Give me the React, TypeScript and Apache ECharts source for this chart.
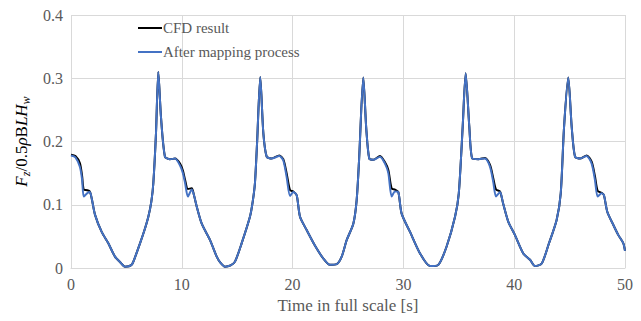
import React, { useEffect, useRef } from "react";
import * as echarts from "echarts";

const timeS: number[] = [
  0, 0.4, 0.8, 1.0, 1.15, 1.45, 1.7, 1.87, 2.17, 2.77, 3.37, 3.97, 4.5, 4.87, 5.47, 5.8, 6.23, 6.6, 6.98, 7.25, 7.43, 7.67, 7.88,
  8.12, 8.48, 8.93, 9.39, 9.84, 10.1, 10.3, 10.55, 10.9, 11.1, 11.35, 11.8, 12.55, 13.15, 13.5, 13.9, 14.4, 14.8, 15.4, 16.15, 16.4, 16.6, 16.8, 17.08,
  17.36, 17.66, 18.1, 18.8, 19.16, 19.46, 19.77, 20.06, 20.37, 20.67, 21.27, 22.0, 22.77, 23.37, 23.98, 24.43, 24.88, 25.48, 25.78, 26.0, 26.38,
  26.65, 26.92, 27.28, 27.89, 28.34, 28.64, 28.94, 29.24, 29.54, 29.84, 30.6, 31.5, 32.4, 33.15, 33.9, 34.66, 35.0, 35.35, 35.62,
  35.95, 36.22, 36.76, 37.36, 37.82, 38.11, 38.36, 38.72, 39.0, 39.47, 40.07, 40.82, 41.43, 41.88, 42.48, 43.08, 43.83, 44.2, 44.5, 44.88,
  45.19, 45.49, 45.94, 46.54, 46.99, 47.29, 47.53, 47.89, 48.1, 48.4, 48.95, 49.4, 49.85, 50,
];

const cfdResult: number[] = [
  0.179, 0.177, 0.166, 0.146, 0.124, 0.123, 0.121, 0.11, 0.084, 0.057, 0.039, 0.018, 0.008, 0.002, 0.005, 0.018, 0.039, 0.058, 0.081, 0.105, 0.134, 0.213, 0.31,
  0.239, 0.176, 0.172, 0.173, 0.165, 0.154, 0.139, 0.125, 0.126, 0.115, 0.097, 0.07, 0.044, 0.018, 0.008, 0.002, 0.004, 0.01, 0.039, 0.081, 0.105, 0.134, 0.2, 0.302,
  0.213, 0.176, 0.173, 0.178, 0.172, 0.15, 0.123, 0.121, 0.115, 0.081, 0.06, 0.036, 0.015, 0.005, 0.006, 0.018, 0.044, 0.07, 0.107, 0.171, 0.301,
  0.22, 0.173, 0.171, 0.177, 0.167, 0.155, 0.126, 0.124, 0.12, 0.086, 0.057, 0.023, 0.003, 0.005, 0.034, 0.081, 0.118, 0.223, 0.308,
  0.223, 0.173, 0.172, 0.174, 0.163, 0.142, 0.124, 0.121, 0.102, 0.073, 0.052, 0.023, 0.013, 0.003, 0.007, 0.036, 0.076, 0.118, 0.223, 0.301,
  0.223, 0.176, 0.173, 0.178, 0.168, 0.145, 0.122, 0.119, 0.115, 0.089, 0.068, 0.052, 0.039, 0.027,
];

const mappedResult: number[] = [
  0.178, 0.175, 0.16, 0.14, 0.113, 0.118, 0.12, 0.11, 0.084, 0.057, 0.039, 0.018, 0.008, 0.002, 0.005, 0.018, 0.039, 0.058, 0.081, 0.105, 0.134, 0.213, 0.31,
  0.239, 0.176, 0.172, 0.173, 0.162, 0.15, 0.134, 0.113, 0.124, 0.115, 0.097, 0.07, 0.044, 0.018, 0.008, 0.002, 0.004, 0.01, 0.039, 0.081, 0.105, 0.134, 0.2, 0.302,
  0.213, 0.176, 0.173, 0.177, 0.17, 0.144, 0.114, 0.12, 0.115, 0.081, 0.06, 0.036, 0.015, 0.005, 0.006, 0.018, 0.044, 0.07, 0.107, 0.171, 0.301,
  0.22, 0.173, 0.171, 0.176, 0.165, 0.15, 0.113, 0.121, 0.12, 0.086, 0.057, 0.023, 0.003, 0.005, 0.034, 0.081, 0.118, 0.223, 0.308,
  0.223, 0.173, 0.172, 0.173, 0.16, 0.136, 0.113, 0.12, 0.102, 0.073, 0.052, 0.023, 0.013, 0.003, 0.007, 0.036, 0.076, 0.118, 0.223, 0.301,
  0.223, 0.176, 0.173, 0.177, 0.165, 0.139, 0.113, 0.118, 0.115, 0.089, 0.068, 0.052, 0.039, 0.027,
];

const seriesNames: string[] = ["CFD result", "After mapping process"];
const xTicks = { min: 0, max: 50, interval: 10 };
const yTicks = { min: 0, max: 0.4, interval: 0.1 };

const FONT = "Liberation Serif";

export default function App() {
  const ref = useRef<HTMLDivElement>(null);
  useEffect(() => {
    if (!ref.current) return;
    const chart = echarts.init(ref.current, undefined, { renderer: "svg" });
    const cfd = timeS.map((t, i) => [t, cfdResult[i]]);
    const mapped = timeS.map((t, i) => [t, mappedResult[i]]);
    chart.setOption({
      animation: false,
      backgroundColor: "#ffffff",
      textStyle: { fontFamily: FONT },
      grid: { left: 71, right: 16, top: 15, bottom: 53 },
      legend: {
        orient: "vertical",
        left: 138,
        top: 20,
        padding: 0,
        icon: "rect",
        itemWidth: 24,
        itemHeight: 2,
        itemGap: 8,
        data: seriesNames,
        textStyle: { fontFamily: FONT, fontSize: 15, color: "#595959", padding: [0, 0, 0, -4], lineHeight: 16 },
      },
      xAxis: {
        type: "value",
        min: xTicks.min,
        max: xTicks.max,
        interval: xTicks.interval,
        name: "Time in full scale [s]",
        nameLocation: "middle",
        nameGap: 29,
        nameTextStyle: { fontFamily: FONT, fontSize: 17, color: "#595959" },
        axisLine: { show: true, lineStyle: { color: "#d9d9d9", width: 1 } },
        axisTick: { show: false },
        axisLabel: { fontFamily: FONT, fontSize: 16, color: "#595959", margin: 8 },
        splitLine: { show: true, lineStyle: { color: "#d9d9d9", width: 1 } },
      },
      yAxis: {
        type: "value",
        min: yTicks.min,
        max: yTicks.max,
        interval: yTicks.interval,
        name: "{i|F}{s|z}{n|/0.5}{i|ρ}{n|B}{i|LH}{s|w}",
        nameLocation: "middle",
        nameGap: 35,
        nameTextStyle: {
          fontFamily: FONT,
          color: "#000000",
          rich: {
            i: { fontFamily: FONT, fontStyle: "italic", fontSize: 17, color: "#000", lineHeight: 22, verticalAlign: "middle" },
            n: { fontFamily: FONT, fontSize: 17, color: "#000", lineHeight: 22, verticalAlign: "middle" },
            s: { fontFamily: FONT, fontStyle: "italic", fontSize: 12, color: "#000", lineHeight: 11, verticalAlign: "bottom" },
          },
        },
        axisLine: { show: false },
        axisTick: { show: false },
        axisLabel: { fontFamily: FONT, fontSize: 16, color: "#595959", margin: 8 },
        splitLine: { show: true, lineStyle: { color: "#d9d9d9", width: 1 } },
      },
      series: [
        {
          name: seriesNames[0],
          type: "line",
          data: cfd,
          symbol: "none",
          smooth: 0.25,
          lineStyle: { color: "#000000", width: 2 },
          itemStyle: { color: "#000000" },
        },
        {
          name: seriesNames[1],
          type: "line",
          data: mapped,
          symbol: "none",
          smooth: 0.25,
          lineStyle: { color: "#4472C4", width: 2 },
          itemStyle: { color: "#4472C4" },
        },
      ],
    });
    return () => chart.dispose();
  }, []);
  return <div ref={ref} style={{ width: 641, height: 321, position: "absolute", left: 0, top: 0 }} />;
}
